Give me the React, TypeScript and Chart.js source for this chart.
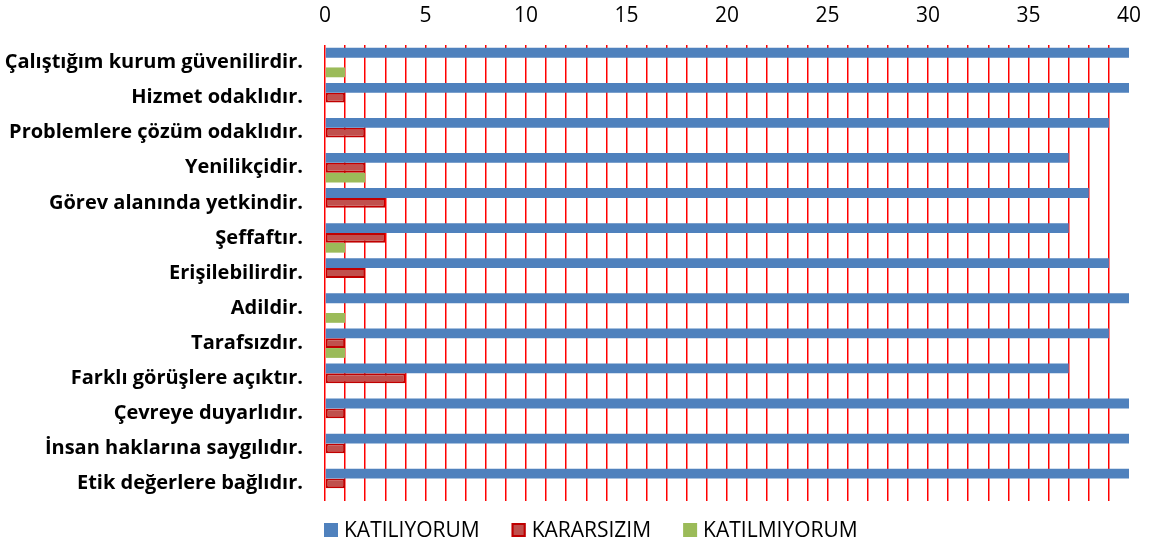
import React, { useEffect, useRef } from 'react';
import { Chart, registerables } from 'chart.js';

Chart.register(...registerables);

const categories = [
  'Çalıştığım kurum güvenilirdir.',
  'Hizmet odaklıdır.',
  'Problemlere çözüm odaklıdır.',
  'Yenilikçidir.',
  'Görev alanında yetkindir.',
  'Şeffaftır.',
  'Erişilebilirdir.',
  'Adildir.',
  'Tarafsızdır.',
  'Farklı görüşlere açıktır.',
  'Çevreye duyarlıdır.',
  'İnsan haklarına saygılıdır.',
  'Etik değerlere bağlıdır.',
];

const katiliyorum = [40, 40, 39, 37, 38, 37, 39, 40, 39, 37, 40, 40, 40];
const kararsizim = [0, 1, 2, 2, 3, 3, 2, 0, 1, 4, 1, 1, 1];
const katilmiyorum = [1, 0, 0, 2, 0, 1, 0, 1, 1, 0, 0, 0, 0];

const seriesNames = ['KATILIYORUM', 'KARARSIZIM', 'KATILMIYORUM'];

const xMin = 0;
const xMax = 40;
const xLabelStep = 5;

const FONT = '"Open Sans"';

const legendPlugin = {
  id: 'customBottomLegend',
  afterDraw(chart: any) {
    const ctx: CanvasRenderingContext2D = chart.ctx;
    const size = 21;
    const box = 14;
    const gapBoxText = 6;
    const gapItems = 32;
    const cy = 530;
    ctx.save();
    ctx.font = `${size}px ${FONT}`;
    ctx.textBaseline = 'middle';
    ctx.textAlign = 'left';
    const items = chart.data.datasets.map((ds: any) => ({
      text: ds.label as string,
      fill: ds.backgroundColor as string,
      stroke: ds.legendStroke as string | undefined,
    }));
    let x = 324;
    items.forEach((it: any) => {
      ctx.fillStyle = it.fill;
      ctx.fillRect(x, cy - box / 2, box, box);
      if (it.stroke) {
        ctx.strokeStyle = it.stroke;
        ctx.lineWidth = 2;
        ctx.strokeRect(x + 1, cy - box / 2 + 1, box - 2, box - 2);
      }
      ctx.fillStyle = '#000000';
      ctx.fillText(it.text, x + box + gapBoxText, cy + 1);
      x += box + gapBoxText + ctx.measureText(it.text).width + gapItems;
    });
    ctx.restore();
  },
};

export default function App() {
  const ref = useRef<HTMLCanvasElement>(null);
  useEffect(() => {
    const zeroNoBorder = (w: number) => (c: any) => (c.raw === 0 ? 0 : w);
    const chart = new Chart(ref.current!, {
      type: 'bar',
      data: {
        labels: categories,
        datasets: [
          {
            label: seriesNames[0],
            data: katiliyorum,
            backgroundColor: '#4F81BD',
            borderWidth: 0,
          },
          {
            label: seriesNames[1],
            data: kararsizim,
            backgroundColor: '#C0504D',
            borderColor: '#C00000',
            borderWidth: zeroNoBorder(2) as any,
            borderSkipped: false,
            legendStroke: '#C00000',
          } as any,
          {
            label: seriesNames[2],
            data: katilmiyorum,
            backgroundColor: '#9BBB59',
            borderWidth: 0,
          },
        ],
      },
      options: {
        indexAxis: 'y',
        responsive: false,
        maintainAspectRatio: false,
        animation: false,
        layout: { padding: { left: 0, right: 21, top: 0, bottom: 46 } },
        datasets: { bar: { categoryPercentage: 0.84, barPercentage: 1.0 } },
        scales: {
          x: {
            position: 'top',
            min: xMin,
            max: xMax,
            afterFit: (s: any) => {
              s.height = 45;
              s.paddingLeft = 0;
              s.paddingRight = 0;
            },
            ticks: {
              stepSize: 1,
              autoSkip: false,
              maxRotation: 0,
              padding: 16,
              color: '#000000',
              font: { family: FONT, size: 21 },
              callback: (v: any) => (Number(v) % xLabelStep === 0 ? String(v) : ''),
            },
            grid: {
              drawTicks: false,
              lineWidth: 1.5,
              color: (c: any) => (c.tick && c.tick.value === xMax ? 'rgba(0,0,0,0)' : '#FF0000'),
            },
            border: { display: false },
          },
          y: {
            afterFit: (s: any) => {
              s.width = 325;
              s.paddingTop = 0;
              s.paddingBottom = 0;
            },
            ticks: {
              autoSkip: false,
              padding: 22,
              color: '#000000',
              font: { family: FONT, size: 20, weight: 'bold' },
            },
            grid: { display: false, drawTicks: false },
            border: { display: false },
          },
        },
        plugins: {
          legend: { display: false },
          tooltip: { enabled: false },
        },
      },
      plugins: [legendPlugin],
    });
    return () => chart.destroy();
  }, []);
  return (
    <div style={{ position: 'absolute', left: 0, top: 0, width: 1150, height: 547, background: '#ffffff' }}>
      <canvas ref={ref} width={1150} height={547} style={{ display: 'block', width: 1150, height: 547 }} />
    </div>
  );
}
